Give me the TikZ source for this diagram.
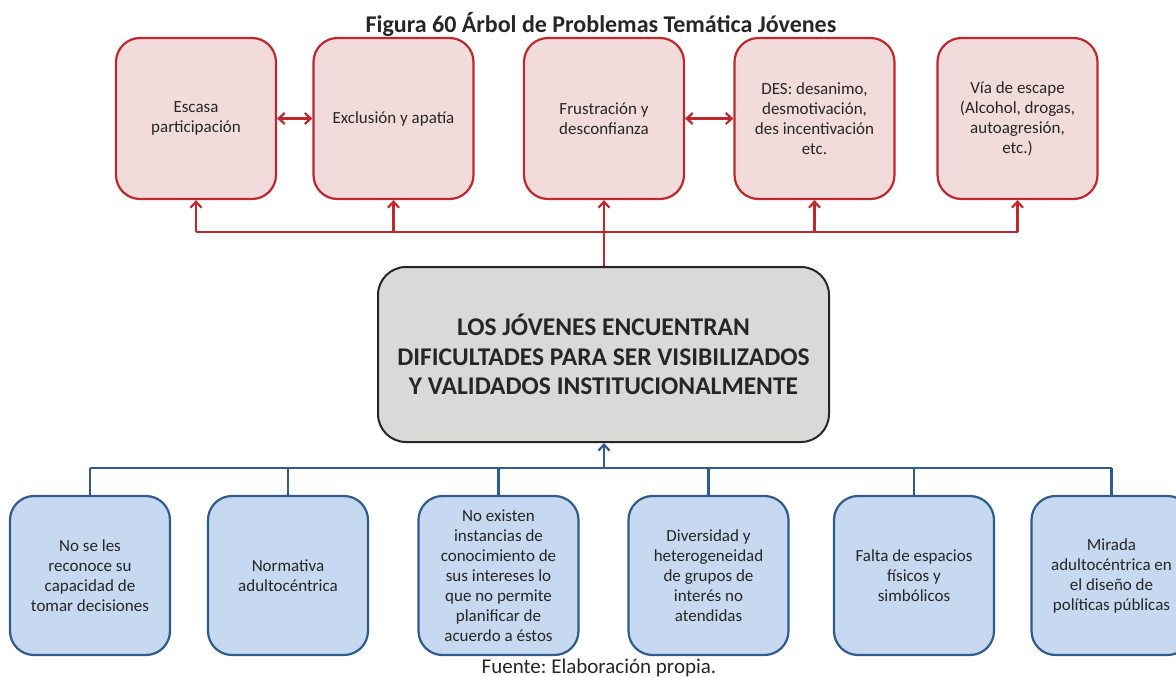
\documentclass[tikz,border=0pt]{standalone}
\usepackage{fontspec}
\setmainfont{Carlito}
\usetikzlibrary{arrows.meta}
\frenchspacing
\definecolor{redb}{HTML}{C0282D}
\definecolor{redf}{HTML}{F2DCDB}
\definecolor{blueb}{HTML}{2E5C8E}
\definecolor{bluef}{HTML}{C6D9F0}
\definecolor{grayf}{HTML}{D9D9D7}
\tikzset{
  redbox/.style={draw=redb, fill=redf, line width=2.2pt, rounded corners=24pt,
    minimum width=160pt, minimum height=161pt, inner sep=0pt, align=center,
    font=\fontsize{17}{20}\selectfont, text=black!85},
  bluebox/.style={draw=blueb, fill=bluef, line width=2.2pt, rounded corners=24pt,
    minimum width=160pt, minimum height=159pt, inner sep=0pt, align=center,
    font=\fontsize{17}{20}\selectfont, text=black!85},
  corebox/.style={draw=black!85, fill=grayf, line width=2pt, rounded corners=28pt,
    minimum width=451pt, minimum height=175pt, inner sep=0pt, align=center,
    font=\bfseries\fontsize{25.5}{29.5}\selectfont, text=black!85},
  redline/.style={draw=redb, line width=2.2pt},
  blueline/.style={draw=blueb, line width=2.2pt},
  tip/.style={-{Straight Barb[length=6pt,width=11pt,line width=2.2pt]}},
  dtip/.style={{Straight Barb[length=6pt,width=11pt,line width=2.2pt]}-{Straight Barb[length=6pt,width=11pt,line width=2.2pt]}},
}
\begin{document}
\begin{tikzpicture}[x=1pt,y=-1pt]
\useasboundingbox (0,0) rectangle (1176,677);
\clip (0,0) rectangle (1176,677);
\node[font=\bfseries\fontsize{24}{28}\selectfont, text=black!85] (title) at (601,24) {Figura 60 Árbol de Problemas Temática Jóvenes};
\node[redbox] (r1) at (196,118.5) {Escasa\\participación};
\node[redbox] (r2) at (393.5,118.5) {Exclusión y apatía};
\node[redbox] (r3) at (604,118.5) {Frustración y\\desconfianza};
\node[redbox] (r4) at (814.5,118.5) {DES: desanimo,\\desmotivación,\\des incentivación\\etc.};
\node[redbox] (r5) at (1017.5,118.5) {Vía de escape\\(Alcohol, drogas,\\autoagresión,\\etc.)};
\node[corebox] (c) at (603.5,354.5) {LOS JÓVENES ENCUENTRAN\\DIFICULTADES PARA SER VISIBILIZADOS\\Y VALIDADOS INSTITUCIONALMENTE};
\node[bluebox] (b1) at (90,575.5) {No se les\\reconoce su\\capacidad de\\tomar decisiones};
\node[bluebox] (b2) at (288,575.5) {Normativa\\adultocéntrica};
\node[bluebox] (b3) at (498.5,575.5) {No existen\\instancias de\\conocimiento de\\sus intereses lo\\que no permite\\planificar de\\acuerdo a éstos};
\node[bluebox] (b4) at (708.5,575.5) {Diversidad y\\heterogeneidad\\de grupos de\\interés no\\atendidas};
\node[bluebox] (b5) at (914,575.5) {Falta de espacios\\físicos y\\simbólicos};
\node[bluebox] (b6) at (1111.5,575.5) {Mirada\\adultocéntrica en\\el diseño de\\políticas públicas};
\node[font=\fontsize{21}{24}\selectfont, text=black!85] (src) at (599,668) {Fuente: Elaboración propia.};
% red connectors
\coordinate (hr) at (0,232);
\draw[redline] (r1.south |- hr) -- (r5.south |- hr);
\foreach \n in {r1,r2,r4,r5} \draw[redline,tip] (\n.south |- hr) -- (\n.south);
\draw[redline,tip] (c.north -| r3.south) -- (r3.south);
\draw[redline,dtip] (r1.east) -- (r2.west);
\draw[redline,dtip] (r3.east) -- (r4.west);
% blue connectors
\coordinate (hb) at (0,468);
\draw[blueline] (b1.north |- hb) -- (b6.north |- hb);
\foreach \n in {b1,b2,b3,b4,b5,b6} \draw[blueline] (\n.north) -- (\n.north |- hb);
\draw[blueline,tip] (r3.south |- hb) -- (r3.south |- c.south);
\end{tikzpicture}
\end{document}
